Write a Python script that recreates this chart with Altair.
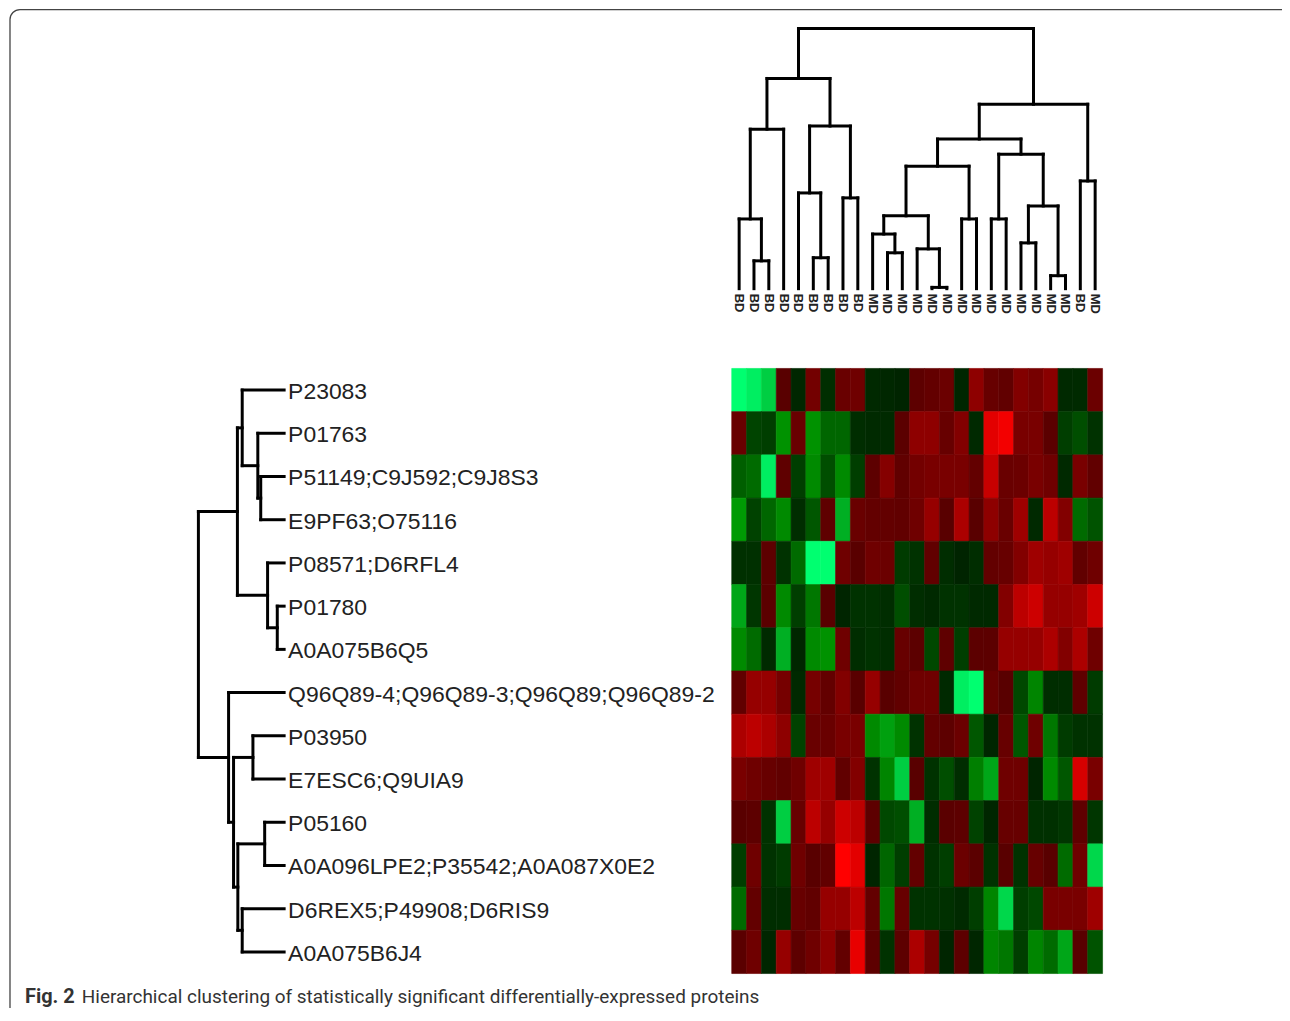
import altair as alt
import pandas as pd

# ---------------- data ----------------
row_names = [
    "P23083", "P01763", "P51149;C9J592;C9J8S3", "E9PF63;O75116",
    "P08571;D6RFL4", "P01780", "A0A075B6Q5",
    "Q96Q89-4;Q96Q89-3;Q96Q89;Q96Q89-2", "P03950", "E7ESC6;Q9UIA9",
    "P05160", "A0A096LPE2;P35542;A0A087X0E2", "D6REX5;P49908;D6RIS9",
    "A0A075B6J4",
]
col_labels = ["BD", "BD", "BD", "BD", "BD", "BD", "BD", "BD", "BD",
              "MD", "MD", "MD", "MD", "MD", "MD", "MD", "MD", "MD", "MD",
              "MD", "MD", "MD", "MD", "BD", "MD"]

r01 = [-1.0, -0.95, -0.85, 0.02, -0.08, 0.28, -0.18, 0.2, 0.25, -0.1, -0.08, -0.03, 0.08, 0.15, 0.22, -0.05, 0.45, 0.18, 0.12, 0.38, 0.3, 0.42, -0.1, -0.12, 0.22]
r02 = [0.2, -0.33, -0.3, -0.65, 0.2, -0.65, -0.48, -0.48, -0.16, -0.12, -0.12, 0.05, 0.45, 0.45, 0.18, 0.38, -0.1, 0.88, 0.95, 0.32, 0.32, 0.05, -0.3, -0.38, -0.22]
r03 = [-0.45, -0.5, -0.95, 0.1, -0.3, -0.62, -0.38, -0.62, -0.3, 0.08, 0.4, 0.12, 0.28, 0.32, 0.32, 0.32, 0.15, 0.75, 0.2, 0.22, 0.32, 0.25, -0.1, 0.32, 0.12]
r04 = [-0.68, -0.32, -0.48, -0.62, -0.16, -0.42, 0.1, -0.75, 0.2, 0.15, 0.15, 0.12, 0.25, 0.5, 0.0, 0.62, 0.0, 0.45, 0.2, 0.55, -0.1, 0.7, 0.38, -0.5, -0.4]
r05 = [-0.2, -0.2, 0.08, -0.22, -0.5, -1.0, -1.0, 0.25, 0.0, 0.25, 0.22, -0.28, -0.22, 0.12, -0.16, -0.03, -0.16, 0.15, 0.18, 0.38, 0.55, 0.5, 0.55, 0.12, 0.25]
r06 = [-0.72, -0.25, 0.05, -0.62, -0.3, -0.55, 0.0, -0.04, -0.22, -0.22, -0.16, -0.38, -0.16, -0.1, -0.22, -0.22, -0.1, -0.1, 0.38, 0.7, 0.78, 0.5, 0.5, 0.55, 0.78]
r07 = [-0.62, -0.5, -0.12, -0.75, -0.06, -0.62, -0.65, 0.25, -0.16, -0.22, -0.16, 0.18, 0.06, -0.35, 0.1, -0.3, 0.06, 0.06, 0.5, 0.5, 0.5, 0.62, 0.38, 0.62, 0.25]
r08 = [0.12, 0.5, 0.5, 0.3, -0.1, 0.3, 0.15, 0.38, 0.0, 0.5, 0.0, 0.12, 0.25, 0.25, -0.1, -0.95, -1.0, 0.18, 0.02, -0.35, -0.6, -0.16, -0.16, 0.1, -0.28]
r09 = [0.62, 0.7, 0.62, 0.45, -0.32, 0.2, 0.2, 0.32, 0.32, -0.62, -0.7, -0.62, -0.22, 0.15, 0.08, 0.22, -0.42, -0.06, 0.18, -0.42, 0.25, -0.55, -0.28, -0.22, -0.22]
r10 = [0.32, 0.25, 0.18, 0.12, 0.25, 0.55, 0.55, 0.12, 0.38, -0.22, -0.6, -0.85, 0.0, -0.22, -0.38, -0.16, -0.58, -0.72, 0.25, 0.25, -0.04, -0.62, -0.42, 0.82, 0.32]
r11 = [0.0, 0.08, -0.22, -0.85, 0.18, 0.7, 0.5, 0.78, 0.7, 0.08, -0.35, -0.38, -0.75, -0.16, 0.03, 0.08, -0.32, -0.05, 0.18, 0.18, -0.2, -0.2, -0.25, 0.1, -0.25]
r12 = [-0.3, 0.25, -0.22, -0.28, 0.25, 0.0, 0.12, 1.0, 0.88, -0.04, -0.48, -0.3, 0.15, -0.22, -0.3, 0.22, 0.05, -0.22, 0.0, -0.22, 0.18, 0.02, -0.5, 0.25, -0.88]
r13 = [-0.5, 0.15, -0.16, -0.16, 0.18, 0.12, 0.5, 0.5, 0.7, 0.15, -0.55, 0.18, -0.22, -0.22, -0.2, -0.12, -0.3, -0.6, -0.88, -0.3, -0.35, 0.32, 0.32, 0.32, 0.55]
r14 = [0.03, 0.25, -0.06, 0.5, 0.08, 0.25, 0.45, 0.15, 0.9, 0.08, -0.22, 0.08, 0.62, 0.3, -0.04, 0.08, -0.06, -0.6, -0.55, -0.3, -0.6, -0.5, -0.72, 0.0, -0.4]
rows_values = [r01, r02, r03, r04, r05, r06, r07, r08, r09, r10, r11, r12, r13, r14]

# row dendrogram (leaves 0..13 in display order, new node ids from 14)
row_link_a = [5, 2, 1, 4, 0, 10, 8, 12, 19, 18, 20, 7, 23]
row_link_b = [6, 3, 15, 14, 16, 11, 9, 13, 21, 17, 22, 24, 25]
row_link_h = [0.08, 0.273, 0.307, 0.193, 0.489, 0.227, 0.364, 0.489, 0.54, 0.545, 0.59, 0.648, 1.0]

# column dendrogram (leaves 0..24 in display order, new node ids from 25)
col_link_a = [1, 0, 26, 5, 4, 7, 29, 27, 23, 19, 21, 34, 17, 37, 15, 10, 9, 13, 12, 41, 44, 45, 46, 32]
col_link_b = [2, 25, 3, 6, 28, 8, 30, 31, 24, 20, 22, 35, 18, 36, 16, 11, 40, 14, 42, 43, 39, 38, 33, 47]
col_link_h = [0.107, 0.268, 0.613, 0.119, 0.368, 0.349, 0.625, 0.808, 0.414, 0.176, 0.05, 0.318, 0.268, 0.517, 0.268, 0.138, 0.21, 0.005, 0.153, 0.28, 0.471, 0.575, 0.709, 1.0]

caption_bold = "Fig. 2"
caption_text = "Hierarchical clustering of statistically significant differentially-expressed proteins"

# ---------------- helpers ----------------
def dendro_segments(n, a, b, h):
    pos = [float(i) for i in range(n)]
    hgt = [0.0] * n
    segs = []
    for ai, bi, hi in zip(a, b, h):
        for c in (ai, bi):
            segs.append({"p0": pos[c], "p1": pos[c], "h0": hgt[c], "h1": hi})
        segs.append({"p0": pos[ai], "p1": pos[bi], "h0": hi, "h1": hi})
        pos.append((pos[ai] + pos[bi]) / 2.0)
        hgt.append(hi)
    return pd.DataFrame(segs)

n_rows = len(row_names)
n_cols = len(col_labels)

cells = []
for i, vals in enumerate(rows_values):
    for j, v in enumerate(vals):
        cells.append({"c0": j - 0.5, "c1": j + 0.5, "r0": i - 0.5, "r1": i + 0.5, "v": v})
heat_df = pd.DataFrame(cells)

row_seg = dendro_segments(n_rows, row_link_a, row_link_b, row_link_h)
col_seg = dendro_segments(n_cols, col_link_a, col_link_b, col_link_h)
row_lab_df = pd.DataFrame({"p": list(range(n_rows)), "name": row_names})
col_lab_df = pd.DataFrame({"p": list(range(n_cols)), "name": col_labels})

W, H = 1278, 1000

# scales (pixel ranges relative to the plot origin)
col_x = alt.Scale(domain=[-0.5, n_cols - 0.5], range=[726, 1098], nice=False, zero=False)
row_y = alt.Scale(domain=[-0.5, n_rows - 0.5], range=[360, 967], nice=False, zero=False)
top_h = alt.Scale(domain=[0, 1], range=[280, 19], nice=False, zero=False)
left_h = alt.Scale(domain=[0, 1], range=[277, 191], nice=False, zero=False)
heat_color = alt.Scale(type="pow", exponent=1.3, domain=[-1, 0, 1],
                       range=["#00ff70", "#000000", "#ff0000"], clamp=True)

heat = alt.Chart(heat_df).mark_rect(strokeWidth=0.6).encode(
    x=alt.X("c0:Q", scale=col_x, axis=None),
    x2="c1:Q",
    y=alt.Y("r0:Q", scale=row_y, axis=None),
    y2="r1:Q",
    color=alt.Color("v:Q", scale=heat_color, legend=None),
    stroke=alt.Stroke("v:Q", scale=heat_color, legend=None),
)

top_dendro = alt.Chart(col_seg).mark_rule(color="#000000", strokeWidth=3, strokeCap="square").encode(
    x=alt.X("p0:Q", scale=col_x, axis=None),
    x2="p1:Q",
    y=alt.Y("h0:Q", scale=top_h, axis=None),
    y2="h1:Q",
)

left_dendro = alt.Chart(row_seg).mark_rule(color="#000000", strokeWidth=3, strokeCap="square").encode(
    x=alt.X("h0:Q", scale=left_h, axis=None),
    x2="h1:Q",
    y=alt.Y("p0:Q", scale=row_y, axis=None),
    y2="p1:Q",
)

row_text = alt.Chart(row_lab_df).mark_text(
    align="left", baseline="middle", dx=0, dy=2, font="Liberation Sans, Arial", fontSize=23, color="#222222"
).encode(
    x=alt.value(281),
    y=alt.Y("p:Q", scale=row_y, axis=None),
    text="name:N",
)

col_text = alt.Chart(col_lab_df).mark_text(
    align="left", baseline="middle", angle=90, font="Liberation Sans, Arial", fontSize=13,
    fontWeight="bold", color="#222222"
).encode(
    x=alt.X("p:Q", scale=col_x, axis=None),
    y=alt.value(285),
    text="name:N",
)

cap_df = pd.DataFrame({"a": [caption_bold], "b": [caption_text]})
cap1 = alt.Chart(cap_df).mark_text(
    align="left", baseline="alphabetic", font="Roboto", fontSize=20,
    fontWeight="bold", color="#333333"
).encode(x=alt.value(17), y=alt.value(997), text="a:N")
cap2 = alt.Chart(cap_df).mark_text(
    align="left", baseline="alphabetic", font="Roboto", fontSize=19,
    color="#333333"
).encode(x=alt.value(74), y=alt.value(997), text="b:N")

frame = alt.Chart(pd.DataFrame({"k": [0]})).mark_rect(
    filled=False, stroke="#444444", strokeWidth=1.3, cornerRadius=10
).encode(x=alt.value(2), x2=alt.value(1292), y=alt.value(0), y2=alt.value(1011))

chart = alt.layer(
    frame, heat, top_dendro, left_dendro, row_text, col_text, cap1, cap2
).resolve_scale(
    x="independent", y="independent", color="independent", stroke="independent"
).properties(
    width=W, height=H, padding=0, autosize=alt.AutoSizeParams(type="none")
).configure_view(strokeWidth=0)

chart.save("out.html", embed_options={"renderer": "svg", "actions": False})
